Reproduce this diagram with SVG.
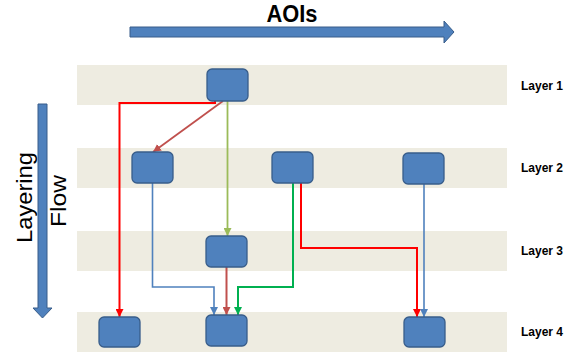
<svg xmlns="http://www.w3.org/2000/svg" width="573" height="352" viewBox="0 0 573 352">
  <style>
    .band { fill: #EEECE1; }
    .node { fill: #4F81BD; stroke: #385D8A; stroke-width: 1.3; }
    .big { fill: #4F81BD; stroke: #385D8A; stroke-width: 1; }
    .lbl { font-family: "Liberation Sans", Arial, sans-serif; font-weight: bold; font-size: 12px; fill: #000; }
    .title { font-family: "Liberation Sans", Arial, sans-serif; fill: #000; }
    .c { fill: none; stroke-linejoin: miter; }
  </style>
  <defs>
    <marker id="mRed" markerUnits="userSpaceOnUse" markerWidth="8" markerHeight="8" viewBox="0 0 8 8" refX="8" refY="4" orient="auto"><path d="M0,0 L8,4 L0,8 Z" fill="#FF0000"/></marker>
    <marker id="mBrown" markerUnits="userSpaceOnUse" markerWidth="8" markerHeight="8" viewBox="0 0 8 8" refX="8" refY="4" orient="auto"><path d="M0,0 L8,4 L0,8 Z" fill="#C0504D"/></marker>
    <marker id="mLime" markerUnits="userSpaceOnUse" markerWidth="8" markerHeight="8" viewBox="0 0 8 8" refX="8" refY="4" orient="auto"><path d="M0,0 L8,4 L0,8 Z" fill="#9BBB59"/></marker>
    <marker id="mGreen" markerUnits="userSpaceOnUse" markerWidth="8" markerHeight="8" viewBox="0 0 8 8" refX="8" refY="4" orient="auto"><path d="M0,0 L8,4 L0,8 Z" fill="#00B050"/></marker>
    <marker id="mBlue" markerUnits="userSpaceOnUse" markerWidth="8" markerHeight="8" viewBox="0 0 8 8" refX="8" refY="4" orient="auto"><path d="M0,0 L8,4 L0,8 Z" fill="#4F81BD"/></marker>
  </defs>
  <rect width="573" height="352" fill="#FFFFFF"/>

  <g id="bands">
    <rect class="band" x="77" y="65" width="430" height="40"/>
    <rect class="band" x="77" y="148" width="430" height="40"/>
    <rect class="band" x="77" y="231" width="430" height="40"/>
    <rect class="band" x="77" y="312" width="430" height="40"/>
  </g>

  <g id="aois-arrow">
    <polygon class="big" points="130,27 444,27 444,21 454,32 444,43 444,37 130,37"/>
    <text class="title" x="292" y="22" text-anchor="middle" font-size="24" font-weight="bold" textLength="51" lengthAdjust="spacingAndGlyphs">AOIs</text>
  </g>

  <g id="layering-arrow">
    <polygon class="big" points="38,104 47,104 47,308 52,308 42.5,318 33,308 38,308"/>
    <text class="title" transform="translate(31.5,243) rotate(-90)" font-size="22" textLength="91" lengthAdjust="spacingAndGlyphs">Layering</text>
    <text class="title" transform="translate(66,227) rotate(-90)" font-size="22" textLength="52" lengthAdjust="spacingAndGlyphs">Flow</text>
  </g>

  <g id="labels">
    <text class="lbl" x="521" y="90">Layer 1</text>
    <text class="lbl" x="521" y="172">Layer 2</text>
    <text class="lbl" x="521" y="255">Layer 3</text>
    <text class="lbl" x="521" y="336">Layer 4</text>
  </g>

  <g id="connectors">
    <path class="c" d="M215,101 V103 H119.5 V317" stroke="#FF0000" stroke-width="2" marker-end="url(#mRed)"/>
    <path class="c" d="M223,101 L153,152" stroke="#C0504D" stroke-width="1.8" marker-end="url(#mBrown)"/>
    <path class="c" d="M227.5,101 V236" stroke="#9BBB59" stroke-width="1.8" marker-end="url(#mLime)"/>
    <path class="c" d="M152.5,183 V287 H214 V315" stroke="#4F81BD" stroke-width="1.6" marker-end="url(#mBlue)"/>
    <path class="c" d="M226.5,267 V315" stroke="#C0504D" stroke-width="2" marker-end="url(#mBrown)"/>
    <path class="c" d="M293,183 V287 H238 V315" stroke="#00B050" stroke-width="2" marker-end="url(#mGreen)"/>
    <path class="c" d="M301,183 V248 H417 V317" stroke="#FF0000" stroke-width="2" marker-end="url(#mRed)"/>
    <path class="c" d="M424,184 V317" stroke="#4F81BD" stroke-width="1.6" marker-end="url(#mBlue)"/>
  </g>

  <g id="n-l1"><rect class="node" x="207" y="69" width="41" height="32" rx="5"/></g>
  <g id="n-l2a"><rect class="node" x="132" y="152" width="41" height="31" rx="5"/></g>
  <g id="n-l2b"><rect class="node" x="272" y="152" width="41" height="31" rx="5"/></g>
  <g id="n-l2c"><rect class="node" x="403" y="153" width="41" height="31" rx="5"/></g>
  <g id="n-l3"><rect class="node" x="206" y="236" width="41" height="31" rx="5"/></g>
  <g id="n-l4a"><rect class="node" x="99" y="317" width="41" height="30" rx="5"/></g>
  <g id="n-l4b"><rect class="node" x="206" y="315" width="41" height="31" rx="5"/></g>
  <g id="n-l4c"><rect class="node" x="404" y="317" width="41" height="30" rx="5"/></g>
</svg>
